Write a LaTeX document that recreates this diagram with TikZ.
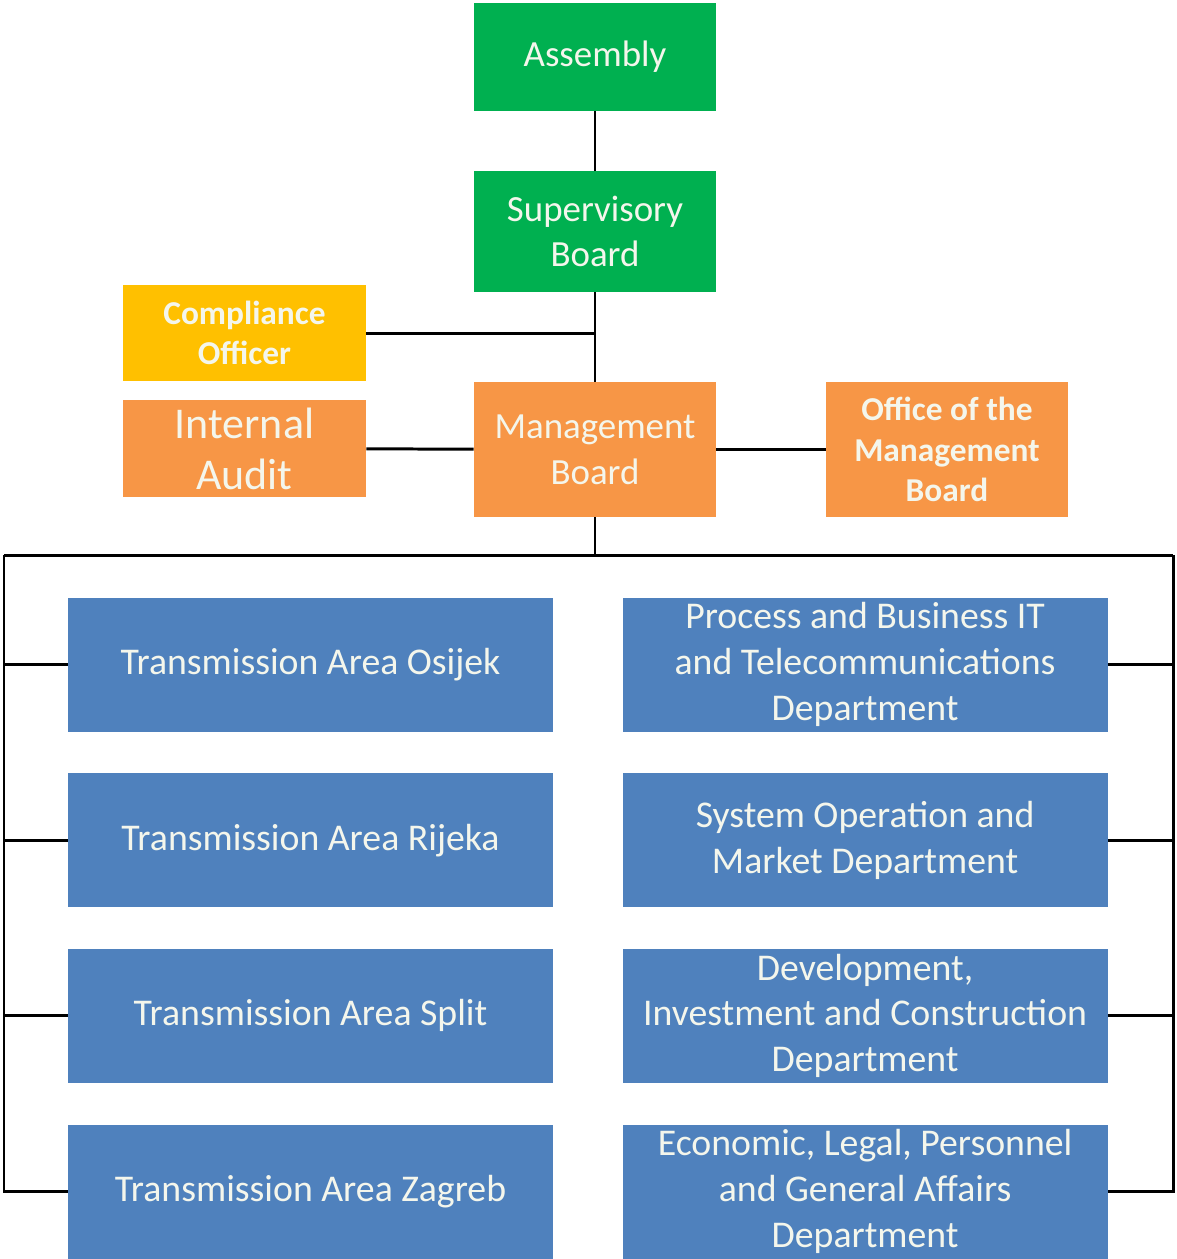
\documentclass[tikz,border=0pt]{standalone}
\usepackage{fontspec}
\setmainfont{Carlito}
\usetikzlibrary{positioning}
\definecolor{boardgreen}{HTML}{00B050}
\definecolor{compyellow}{HTML}{FFC000}
\definecolor{mgmtorange}{HTML}{F79646}
\definecolor{areablue}{HTML}{4F81BD}
\definecolor{boxtext}{HTML}{F4F6EC}

\begin{document}
\begin{tikzpicture}[x=0.02cm, y=-0.02cm,
    box/.style={draw=none, inner sep=2pt, align=center, text=boxtext,
        font=\fontsize{21}{26}\selectfont},
    greenbox/.style={box, fill=boardgreen, minimum width=4.84cm},
    orangebox/.style={box, fill=mgmtorange, minimum width=4.84cm, minimum height=2.7cm},
    bluebox/.style={box, fill=areablue, minimum width=9.7cm, minimum height=2.68cm,
        font=\fontsize{21.5}{26}\selectfont},
    link/.style={line width=1.7pt, black}]

    \useasboundingbox (0,0) rectangle (1177,1259);

    % top of the chart
    \node [greenbox, minimum height=2.16cm] (assembly) at (595,57) {Assembly};
    \node [greenbox, minimum height=2.42cm] (superv) at (595,231.5) {Supervisory\\Board};
    \node [orangebox] (mgmt) at (595,449.5) {Management\\Board};
    \node [orangebox, font=\bfseries\fontsize{19}{23}\selectfont] (office) at (947,449.5) {Office of the\\Management\\Board};
    \node [box, fill=compyellow, minimum width=4.86cm, minimum height=1.92cm,
        font=\bfseries\fontsize{19}{23}\selectfont] (compl) at (244.5,333) {Compliance\\Officer};
    \node [box, fill=mgmtorange, minimum width=4.86cm, minimum height=1.94cm,
        font=\fontsize{25}{29}\selectfont] (audit) at (244.5,448.5) {Internal\\Audit};

    % transmission areas and departments
    \node [bluebox] (ta1) at (310.5,664.5) {Transmission Area Osijek};
    \node [bluebox, below=0.82cm of ta1] (ta2) {Transmission Area Rijeka};
    \node [bluebox, below=0.82cm of ta2] (ta3) {Transmission Area Split};
    \node [bluebox, below=0.82cm of ta3] (ta4) {Transmission Area Zagreb};

    \node [bluebox, right=1.38cm of ta1] (dep1) {Process and Business IT\\and Telecommunications\\Department};
    \node [bluebox, right=1.38cm of ta2] (dep2) {System Operation and\\Market Department};
    \node [bluebox, right=1.38cm of ta3] (dep3) {Development,\\Investment and Construction\\Department};
    \node [bluebox, right=1.38cm of ta4] (dep4) {Economic, Legal, Personnel\\and General Affairs\\Department};

    \coordinate (bus) at (595,555);
    \coordinate (busL) at (4,555);
    \coordinate (busR) at (1173,555);

    \draw [link] (assembly) -- (superv);
    \draw [link] (superv) -- (mgmt);
    \draw [link] (compl) -- (compl -| mgmt);
    \draw [link] (audit) -- (mgmt);
    \draw [link] (mgmt) -- (office);
    \draw [link] (mgmt) -- (bus);
    \draw [link] (busL) -- (busR);

    \draw [link] (busL) |- (ta4.west);
    \draw [link] (busR) |- (dep4.east);
    \foreach \n in {1,2,3} {
        \draw [link] (ta\n.west) -- (ta\n.west -| busL);
        \draw [link] (dep\n.east) -- (dep\n.east -| busR);
    }
\end{tikzpicture}
\end{document}
